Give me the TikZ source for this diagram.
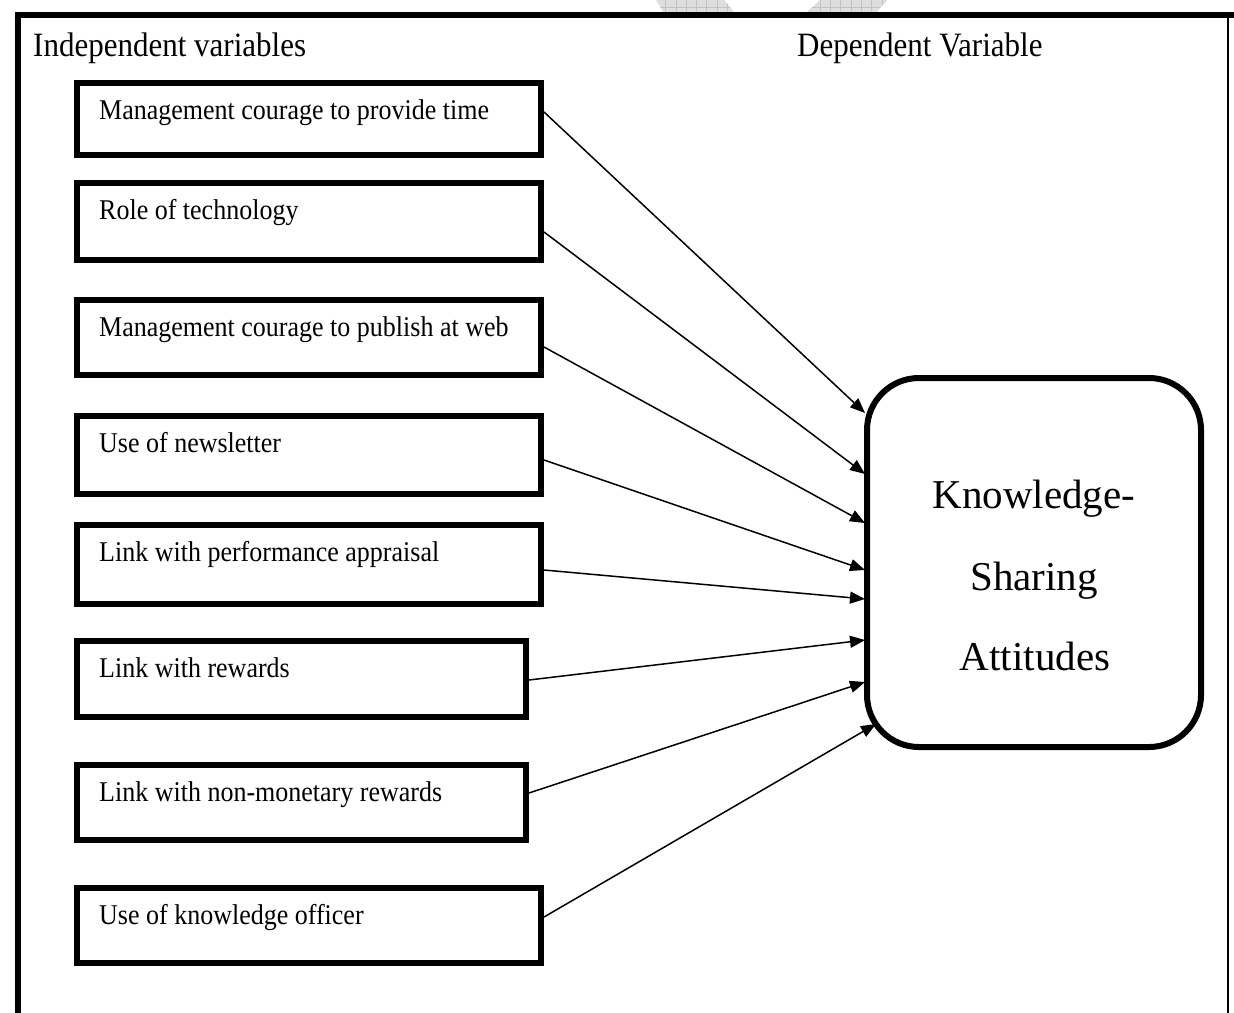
\documentclass[tikz,border=0pt]{standalone}
\usepackage{fontspec}
\usepackage{graphicx}
\setmainfont{Liberation Serif}
\usetikzlibrary{arrows.meta,calc}

% slightly tall lettering for the labels
\newcommand{\tallsetting}[1]{\scalebox{1}[1.1]{#1}}

\tikzset{
  ivbox/.style={draw, line width=6pt, rectangle, inner sep=0pt},
  ivtext/.style={anchor=base west, inner sep=0pt, font=\fontsize{26}{30}\selectfont},
  headtext/.style={anchor=base west, inner sep=0pt, font=\fontsize{31}{36}\selectfont},
  dvbox/.style={draw, line width=6pt, rectangle, rounded corners=52pt, inner sep=0pt},
  dvtext/.style={anchor=base, inner sep=0pt, font=\fontsize{41}{48}\selectfont},
  link/.style={line width=1.5pt, -{Triangle[length=15pt,width=12pt]}},
  shade/.style={black!13},
  shadegrid/.style={black!24, line width=0.7pt},
}

\begin{document}
\begin{tikzpicture}[x=1pt, y=-1pt, line join=miter]
\useasboundingbox (0,0) rectangle (1234,1012);

% faint hatched marks behind the top edge of the frame
\begin{scope}
  \clip (655,-2) -- (723,-2) -- (736,15) -- (665,15) -- cycle
        (822,-2) -- (889,-2) -- (874,15) -- (804,15) -- cycle;
  \fill[shade] (640,-3) rectangle (900,16);
  \foreach \gx in {645,655.3,...,900}
    \draw[shadegrid] (\gx,-3) -- (\gx,16);
  \draw[shadegrid] (640,7) -- (900,7);
\end{scope}

% outer frame
\draw[line width=6pt] (17.5,1016) -- (17.5,15) -- (1236,15);
\draw[line width=2pt] (1228,15) -- (1228,1016);

% headings
\node[headtext] (indep) at (33,56) {\tallsetting{Independent variables}};
\node[headtext] (dep) at (797,56) {\tallsetting{Dependent Variable}};

% independent variables
\node[ivbox, minimum width=464pt, minimum height=72pt] (b1) at (309,119) {};
\node[ivbox, minimum width=464pt, minimum height=77pt] (b2) at (309,221.5) {};
\node[ivbox, minimum width=464pt, minimum height=75pt] (b3) at (309,337.5) {};
\node[ivbox, minimum width=464pt, minimum height=78pt] (b4) at (309,455) {};
\node[ivbox, minimum width=464pt, minimum height=79pt] (b5) at (309,564.5) {};
\node[ivbox, minimum width=449pt, minimum height=76pt] (b6) at (301.5,679) {};
\node[ivbox, minimum width=449pt, minimum height=75pt] (b7) at (301.5,802.5) {};
\node[ivbox, minimum width=464pt, minimum height=75pt] (b8) at (309,925.5) {};

\node[ivtext] (t1) at ($(b1.north west)+(25,39)$) {\tallsetting{Management courage to provide time}};
\node[ivtext] (t2) at ($(b2.north west)+(25,39)$) {\tallsetting{Role of technology}};
\node[ivtext] (t3) at ($(b3.north west)+(25,39)$) {\tallsetting{Management courage to publish at web}};
\node[ivtext] (t4) at ($(b4.north west)+(25,39)$) {\tallsetting{Use of newsletter}};
\node[ivtext] (t5) at ($(b5.north west)+(25,39)$) {\tallsetting{Link with performance appraisal}};
\node[ivtext] (t6) at ($(b6.north west)+(25,39)$) {\tallsetting{Link with rewards}};
\node[ivtext] (t7) at ($(b7.north west)+(25,39)$) {\tallsetting{Link with non-monetary rewards}};
\node[ivtext] (t8) at ($(b8.north west)+(25,39)$) {\tallsetting{Use of knowledge officer}};

% dependent variable
\node[dvbox, minimum width=334pt, minimum height=369pt] (ksa) at (1034,562.5) {};
\node[dvtext] (k1) at (1034,508) {Knowledge-};
\node[dvtext] (k2) at (1034,590) {Sharing};
\node[dvtext] (k3) at (1035,670) {Attitudes};

% influences
\draw[link] ($(b1.east)+(0,-7)$)   -- ($(ksa.west)+(1,-149.5)$);
\draw[link] ($(b2.east)+(0,10.5)$) -- ($(ksa.west)+(1,-88.5)$);
\draw[link] ($(b3.east)+(0,9.5)$)  -- ($(ksa.west)+(1,-39.5)$);
\draw[link] ($(b4.east)+(0,5)$)    -- ($(ksa.west)+(1,7.5)$);
\draw[link] ($(b5.east)+(0,5.5)$)  -- ($(ksa.west)+(1,36.5)$);
\draw[link] ($(b6.east)+(0,1)$)    -- ($(ksa.west)+(1,77.5)$);
\draw[link] ($(b7.east)+(0,-9.5)$) -- ($(ksa.west)+(1,119.5)$);
\draw[link] ($(b8.east)+(0,-8.5)$) -- ($(ksa.west)+(12,161.5)$);
\end{tikzpicture}
\end{document}
